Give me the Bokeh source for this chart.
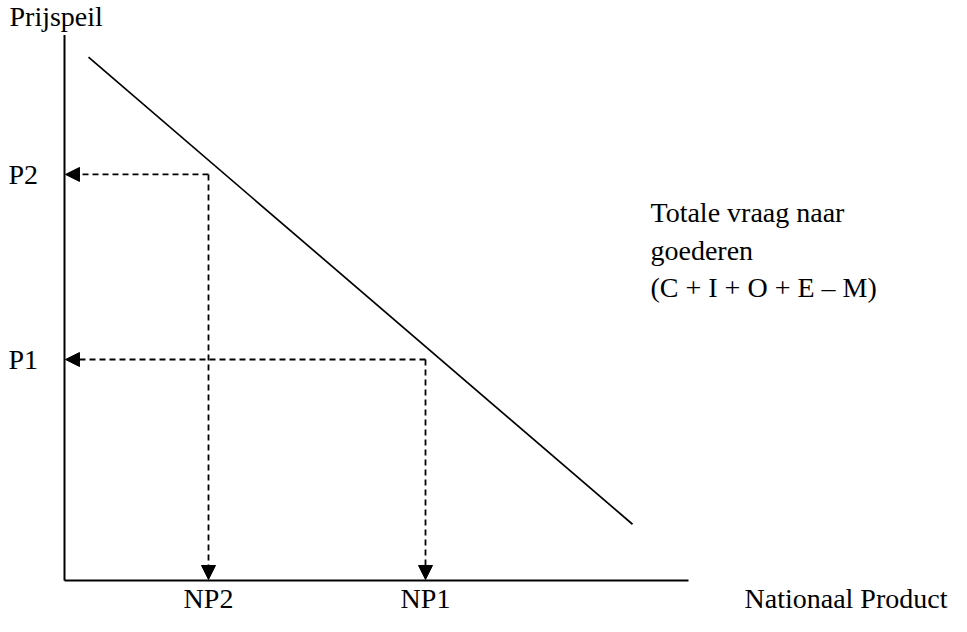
from bokeh.plotting import figure
from bokeh.models import Range1d, Arrow, NormalHead
from bokeh.core.properties import value
from bokeh.embed import file_html
from bokeh.resources import INLINE

# Data (chart units, origin at the axes intersection)
price_labels = ["P2", "P1"]
price_levels = [419, 228]
np_labels = ["NP2", "NP1"]
np_levels = [144, 361]
demand_x = [24, 568]
demand_y = [540, 58]
x_axis_end = 624
y_axis_end = 563

FONT = value("Liberation Serif")
FS = "28px"

p = figure(width=951, height=616, output_backend="svg", toolbar_location=None,
           x_range=Range1d(-64, 887), y_range=Range1d(-37.2, 598.5),
           min_border=0, outline_line_color=None)
p.axis.visible = False
p.grid.visible = False

# axes
p.line([0, 0], [0, y_axis_end], line_color="black", line_width=2)
p.line([0, x_axis_end], [0, 0], line_color="black", line_width=2)

# demand line
p.line(demand_x, demand_y, line_color="black", line_width=1.7)

# dashed arrows
for px, py in zip(np_levels, price_levels):
    for xe, ye in ((1, py), (px, 1)):
        p.add_layout(Arrow(x_start=px, y_start=py, x_end=xe, y_end=ye,
                           line_dash="6 4", line_width=1.8, line_color="black",
                           end=NormalHead(size=14, fill_color="black",
                                          line_color="black", line_width=1)))

# texts
def txt(xs, ys, labels, align="left"):
    p.text(x=xs, y=ys, text=labels, text_font=FONT, text_font_size=FS,
           text_baseline="middle", text_align=align, text_color="black")

txt([-55], [582], ["Prijspeil"])
txt([-56] * 2, price_levels, price_labels)
txt(np_levels, [-19] * 2, np_labels, align="center")
txt([680], [-19], ["Nationaal Product"])
txt([586] * 3, [380, 340, 302],
    ["Totale vraag naar", "goederen", "(C + I + O + E \u2013 M)"])

open("out.html", "w").write(file_html(p, INLINE))
